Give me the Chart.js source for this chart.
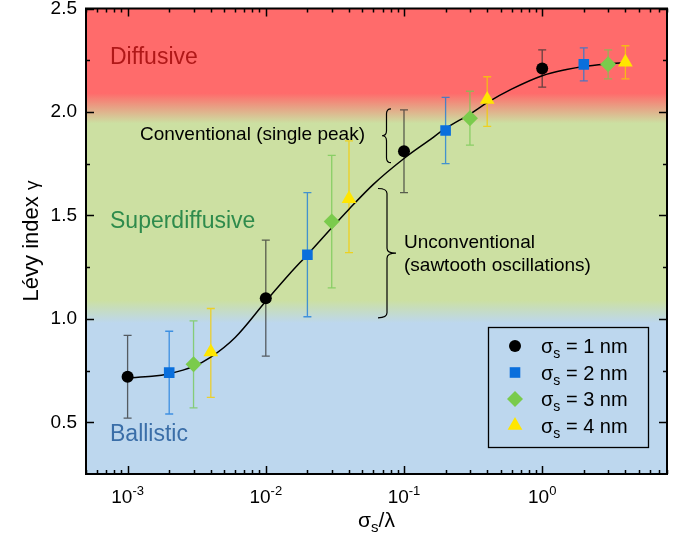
<!DOCTYPE html>
<html><head><meta charset="utf-8">
<script src="https://cdn.jsdelivr.net/npm/chart.js@4/dist/chart.umd.min.js"></script>
<style>html,body{margin:0;padding:0;background:#fff}</style>
</head><body>
<canvas id="c" width="682" height="539"></canvas>
<script>
// ---- data ----
const ratio1 = [0.001, 0.01, 0.1, 1];
const gamma1 = [0.72, 1.10, 1.81, 2.21];
const low1   = [0.52, 0.82, 1.61, 2.12];
const high1  = [0.92, 1.38, 2.01, 2.30];

const ratio2 = [0.002, 0.02, 0.2, 2];
const gamma2 = [0.74, 1.31, 1.91, 2.23];
const low2   = [0.54, 1.01, 1.75, 2.15];
const high2  = [0.94, 1.61, 2.07, 2.31];

const ratio3 = [0.003, 0.03, 0.3, 3];
const gamma3 = [0.78, 1.47, 1.97, 2.23];
const low3   = [0.57, 1.15, 1.84, 2.16];
const high3  = [0.99, 1.79, 2.10, 2.30];

const ratio4 = [0.004, 0.04, 0.4, 4];
const gamma4 = [0.84, 1.58, 2.06, 2.24];
const low4   = [0.62, 1.32, 1.93, 2.16];
const high4  = [1.05, 1.86, 2.17, 2.32];

const fitRatio = [0.001,0.0015,0.002,0.003,0.004,0.006,0.01,0.015,0.02,0.03,0.04,0.06,0.1,0.15,0.2,0.3,0.4,0.6,1,1.5,2,3,4];
const fitGamma = [0.715,0.722,0.735,0.77,0.815,0.91,1.085,1.22,1.31,1.44,1.53,1.65,1.775,1.86,1.92,1.99,2.045,2.11,2.175,2.205,2.22,2.232,2.238];

const seriesLabels = ['1 nm', '2 nm', '3 nm', '4 nm'];
const yTickValues = [0.5, 1.0, 1.5, 2.0, 2.5];
const yTickLabels = ['0.5', '1.0', '1.5', '2.0', '2.5'];
const yMinorValues = [0.75, 1.25, 1.75, 2.25];
const xDecades = [0.001, 0.01, 0.1, 1];
const xDecadeExps = ['-3', '-2', '-1', '0'];

// ---- styles ----
const FONT = '"Liberation Sans", Arial, sans-serif';
const series = [
  {x: ratio1, y: gamma1, lo: low1, hi: high1, style: 'circle',   r: 6,   color: '#000000', err: 'rgba(50,50,50,0.75)'},
  {x: ratio2, y: gamma2, lo: low2, hi: high2, style: 'rect',     r: 7.5, color: '#0a6fdc', err: 'rgba(20,120,220,0.75)'},
  {x: ratio3, y: gamma3, lo: low3, hi: high3, style: 'rectRot',  r: 8,   color: '#7acb4c', err: 'rgba(115,200,80,0.75)'},
  {x: ratio4, y: gamma4, lo: low4, hi: high4, style: 'triangle', r: 8.5, color: '#ffe600', err: 'rgba(245,205,0,0.8)'}
];

const datasets = [{
  data: fitRatio.map((v, i) => ({x: v, y: fitGamma[i]})),
  borderColor: '#000', borderWidth: 1.5, pointRadius: 0, fill: false,
  cubicInterpolationMode: 'monotone', order: 10
}];
series.forEach(s => datasets.push({
  data: s.x.map((v, i) => ({x: v, y: s.y[i]})),
  showLine: false, pointStyle: s.style, pointRadius: s.r, pointHoverRadius: s.r,
  backgroundColor: s.color, borderColor: s.color, pointBorderWidth: 0, order: 0
}));

function textWithSub(ctx, x, y, parts) {
  // parts: [text, size, dy]
  let cx = x;
  parts.forEach(p => {
    ctx.font = p[1] + 'px ' + FONT;
    ctx.fillText(p[0], cx, y + (p[2] || 0));
    cx += ctx.measureText(p[0]).width;
  });
  return cx - x;
}
function widthOf(ctx, parts) {
  let w = 0;
  parts.forEach(p => { ctx.font = p[1] + 'px ' + FONT; w += ctx.measureText(p[0]).width; });
  return w;
}
function brace(ctx, xa, xb, y1, y2) {
  // xa = side of the curls, xb = side of the point
  const xm = (xa + xb) / 2, ym = (y1 + y2) / 2, r = 5;
  ctx.beginPath();
  ctx.moveTo(xa, y1);
  ctx.quadraticCurveTo(xm, y1, xm, y1 + r);
  ctx.lineTo(xm, ym - r);
  ctx.quadraticCurveTo(xm, ym, xb, ym);
  ctx.quadraticCurveTo(xm, ym, xm, ym + r);
  ctx.lineTo(xm, y2 - r);
  ctx.quadraticCurveTo(xm, y2, xa, y2);
  ctx.stroke();
}

const plugin = {
  id: 'custom',
  beforeDatasetsDraw(chart) {
    const {ctx, chartArea: a, scales: {x, y}} = chart;
    ctx.save();
    const f = v => (y.getPixelForValue(v) - a.top) / (a.bottom - a.top);
    const g = ctx.createLinearGradient(0, a.top, 0, a.bottom);
    g.addColorStop(0, '#ff6b6b');
    g.addColorStop(f(2.09), '#ff6b6b');
    g.addColorStop(f(1.945), '#cce0a2');
    g.addColorStop(f(1.09), '#cce0a2');
    g.addColorStop(f(0.98), '#bdd7ee');
    g.addColorStop(1, '#bdd7ee');
    ctx.fillStyle = g;
    ctx.fillRect(a.left, a.top, a.right - a.left, a.bottom - a.top);
    // error bars
    ctx.lineWidth = 1.3;
    series.forEach(s => {
      ctx.strokeStyle = s.err;
      s.x.forEach((v, i) => {
        const px = x.getPixelForValue(v);
        const pl = y.getPixelForValue(s.lo[i]), ph = y.getPixelForValue(s.hi[i]);
        ctx.beginPath();
        ctx.moveTo(px, pl); ctx.lineTo(px, ph);
        ctx.moveTo(px - 4, pl); ctx.lineTo(px + 4, pl);
        ctx.moveTo(px - 4, ph); ctx.lineTo(px + 4, ph);
        ctx.stroke();
      });
    });
    ctx.restore();
  },
  afterDraw(chart) {
    const {ctx, chartArea: a, scales: {x, y}} = chart;
    ctx.save();
    ctx.fillStyle = '#000';
    ctx.strokeStyle = '#000';
    // region labels
    ctx.textAlign = 'left'; ctx.textBaseline = 'alphabetic';
    ctx.font = '23px ' + FONT;
    ctx.fillStyle = '#b01818'; ctx.fillText('Diffusive', 110, 64);
    ctx.fillStyle = '#2e8b4c'; ctx.fillText('Superdiffusive', 110, 228);
    ctx.fillStyle = '#3a6ea8'; ctx.fillText('Ballistic', 110, 441);
    // annotations
    ctx.fillStyle = '#000';
    ctx.font = '19px ' + FONT;
    ctx.fillText('Conventional (single peak)', 140, 140);
    ctx.fillText('Unconventional', 404, 248);
    ctx.fillText('(sawtooth oscillations)', 404, 271);
    ctx.lineWidth = 1.2;
    brace(ctx, 391, 382, y.getPixelForValue(2.015), y.getPixelForValue(1.755));
    brace(ctx, 378, 396, y.getPixelForValue(1.63), y.getPixelForValue(1.005));
    // frame
    ctx.lineWidth = 2;
    ctx.strokeRect(a.left, a.top, a.right - a.left, a.bottom - a.top);
    // y ticks
    ctx.lineWidth = 1.5;
    ctx.beginPath();
    yTickValues.forEach(v => {
      const py = Math.round(y.getPixelForValue(v)) + 0.5;
      ctx.moveTo(a.left, py); ctx.lineTo(a.left + 8, py);
      ctx.moveTo(a.right, py); ctx.lineTo(a.right - 8, py);
    });
    yMinorValues.forEach(v => {
      const py = Math.round(y.getPixelForValue(v)) + 0.5;
      ctx.moveTo(a.left, py); ctx.lineTo(a.left + 4, py);
      ctx.moveTo(a.right, py); ctx.lineTo(a.right - 4, py);
    });
    // x ticks
    for (let e = -4; e <= 0; e++) {
      for (let m = 1; m <= 9; m++) {
        const v = m * Math.pow(10, e);
        if (v < x.min * 0.999 || v > x.max * 1.001) continue;
        const px = Math.round(x.getPixelForValue(v)) + 0.5;
        const len = m === 1 ? 8 : 4;
        ctx.moveTo(px, a.bottom); ctx.lineTo(px, a.bottom - len);
        ctx.moveTo(px, a.top); ctx.lineTo(px, a.top + len);
      }
    }
    ctx.stroke();
    // y tick labels
    ctx.font = '19px ' + FONT;
    ctx.textAlign = 'right'; ctx.textBaseline = 'middle';
    yTickValues.forEach((v, i) => ctx.fillText(yTickLabels[i], 77, y.getPixelForValue(v)));
    // x tick labels
    ctx.textAlign = 'left'; ctx.textBaseline = 'alphabetic';
    xDecades.forEach((v, i) => {
      const parts = [['10', 19, 0], [xDecadeExps[i], 13, -8]];
      const w = widthOf(ctx, parts);
      textWithSub(ctx, x.getPixelForValue(v) - w / 2, 503, parts);
    });
    // x title
    const xt = [['σ', 21, 0], ['s', 15, 5], ['/λ', 21, 0]];
    textWithSub(ctx, (a.left + a.right) / 2 - widthOf(ctx, xt) / 2, 527, xt);
    // y title
    ctx.save();
    ctx.translate(38, 241);
    ctx.rotate(-Math.PI / 2);
    const yt = [['Lévy index ', 22, 0], ['γ', 19, 0]];
    textWithSub(ctx, -widthOf(ctx, yt) / 2, 0, yt);
    ctx.restore();
    // legend
    ctx.lineWidth = 1.3;
    ctx.strokeRect(488.5, 327.5, 160, 120);
    const rows = [346, 372.5, 399, 425.5];
    series.forEach((s, i) => {
      ctx.fillStyle = s.color;
      Chart.helpers.drawPoint(ctx, {pointStyle: s.style, radius: s.r, rotation: 0, borderWidth: 0}, 515, rows[i]);
      ctx.fillStyle = '#000';
      textWithSub(ctx, 541, rows[i] + 7, [['σ', 20, 0], ['s', 14, 5], [' = ' + seriesLabels[i], 20, 0]]);
    });
    ctx.restore();
  }
};

new Chart(document.getElementById('c'), {
  type: 'line',
  data: {datasets},
  options: {
    responsive: false, animation: false, devicePixelRatio: 1,
    layout: {padding: {left: 86, right: 15, top: 7, bottom: 65}},
    plugins: {legend: {display: false}, tooltip: {enabled: false}},
    scales: {
      x: {type: 'logarithmic', min: 0.0005, max: 8, display: false},
      y: {type: 'linear', min: 0.25, max: 2.5, display: false}
    }
  },
  plugins: [plugin]
});
</script>
</body></html>
